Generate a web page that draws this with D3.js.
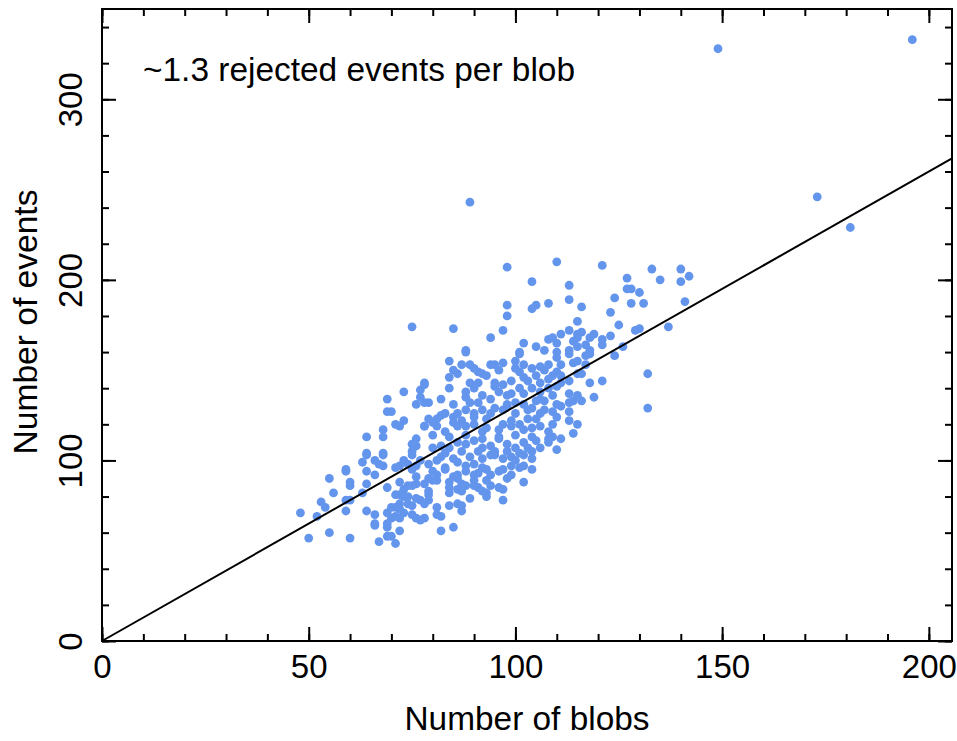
<!DOCTYPE html>
<meta charset="utf-8">
<style>
body { margin: 0; background: #fff; }
svg { font-family: "Liberation Sans", Arial, Helvetica, sans-serif; }
.tick line { stroke: #000; stroke-width: 2; }
.label { font-size: 33px; fill: #000; }
</style>
<svg width="957" height="741"></svg>
<script src="https://cdn.jsdelivr.net/npm/d3@7"></script>
<script>

// number of blobs per run
var blobs = [
  149, 196, 173, 181, 89, 75,
  98, 110, 104, 98, 98, 104, 105, 108, 85, 94, 97, 88, 102, 101, 105, 108, 109, 110, 111, 107, 110,
  121, 133, 140, 142, 140, 127, 135, 113, 113, 127, 128, 130, 124, 128, 131, 141, 116, 123, 115, 125, 137, 129, 130, 113, 115, 116, 114, 115, 118, 119, 121, 123, 121, 117, 115, 126, 113, 118,
  113, 117, 118, 124, 114, 115, 117, 115, 116, 113, 118, 121, 132, 113, 115, 119, 113, 114, 116, 132, 113, 113, 115, 114,
  73, 69, 76, 69, 70, 77, 78, 77, 78, 71, 73, 72, 78, 68, 68, 64, 76, 75, 76, 64, 68, 75,
  64, 68, 66, 67, 68, 63, 64, 66, 59, 59, 55, 60, 60, 64, 56, 53, 54, 59, 60, 63, 59, 64, 66, 66, 66, 52, 48, 50, 55, 60, 69, 69, 69, 67, 69, 70, 71, 72,
  71, 72, 73, 74, 75, 76, 77, 75, 71, 72, 73, 74, 75, 76, 74, 75, 76, 77, 71, 70, 72, 73, 75, 71, 72, 70, 69, 76, 77, 72, 73,
  84, 87, 88, 89, 91, 94, 95, 97, 100, 100, 101, 102, 104, 106, 108, 110, 111, 110,
  84, 86, 89, 91, 92, 93, 95, 97, 99, 102, 103, 105, 106, 108, 109, 111, 78,
  79, 84, 88, 88, 90, 92, 94, 96, 98, 99, 101, 102, 104, 106, 108, 110, 111, 85, 89, 91, 98, 100, 102, 105, 106, 109, 110,
  79, 82, 83, 85, 86, 88, 90, 92, 94, 95, 97, 98, 100, 103, 104, 106, 107, 109, 111,
  78, 80, 81, 83, 85, 86, 88, 90, 92, 93, 96, 97, 99, 101, 102, 104, 106, 108, 109, 80,
  80, 82, 84, 86, 88, 90, 92, 94, 96, 98, 100, 102, 103, 105, 106, 83, 87, 91, 95, 98, 101, 104, 108, 110, 111, 109,
  79, 81, 82, 85, 86, 89, 90, 92, 94, 95, 97, 99, 100, 102, 104, 99, 101, 102,
  80, 81, 83, 85, 86, 88, 90, 91, 93, 94, 96, 99, 104, 102, 81, 84, 87, 90,
  78, 79, 79, 84, 84, 86, 87, 88, 90, 91, 92, 93, 94, 96, 97,
  78, 79, 81, 81, 82, 84, 86, 87, 87, 78, 82, 85,
  // denser core, read between the rows above
  84, 88, 92, 96, 100, 104, 108, 85, 90, 96, 101, 107,
  81, 87, 93, 99, 105, 110, 83, 88, 92, 97, 80, 86, 93, 98,
  82, 90, 95, 103, 107, 76, 79, 74, 72, 89, 93, 97
];

// number of events per run
var events = [
  328, 333, 246, 229, 243, 174,
  207, 210, 199, 186, 180, 184, 186, 187, 173, 168, 172, 161, 165, 160, 163, 167, 168, 165, 170, 161, 160,
  208, 206, 206, 202, 199, 201, 200, 197, 189, 195, 195, 193, 190, 187, 187, 188, 185, 182, 177, 175, 174, 172, 173, 172, 170, 171, 166, 168, 168, 170, 167, 169, 164, 164, 163, 163, 161, 161,
  159, 158, 159, 158, 154, 155, 153, 148, 148, 144, 143, 144, 148, 137, 136, 135, 132, 133, 133, 129, 127, 122, 120, 115,
  138, 134, 131, 127, 127, 139, 142, 135, 132, 120, 122, 119, 119, 117, 113, 113, 112, 109, 108, 104, 104, 105,
  103, 103, 100, 98, 97, 99, 94, 92, 95, 94, 90, 88, 86, 87, 82, 77, 74, 78, 78, 82, 72, 72, 70, 65, 64, 69, 71, 57, 60, 57, 85, 71, 63, 55, 58, 58, 54, 61,
  96, 97, 100, 98, 95, 97, 100, 103, 81, 81, 80, 86, 86, 87, 76, 75, 79, 78, 74, 74, 73, 71, 70, 69, 68, 68, 65, 68, 67, 76, 84,
  155, 153, 160, 153, 149, 153, 153, 154, 151, 155, 159, 153, 151, 152, 153, 157, 153, 149,
  146, 148, 143, 143, 148, 147, 143, 142, 144, 146, 144, 147, 143, 145, 147, 147, 143,
  132, 140, 135, 138, 140, 136, 134, 138, 136, 137, 140, 137, 140, 138, 140, 141, 143, 131, 132, 132, 131, 132, 131, 133, 134, 136, 131,
  123, 125, 126, 124, 126, 128, 126, 128, 126, 129, 128, 130, 126, 128, 129, 126, 128, 127, 130,
  119, 121, 119, 116, 121, 119, 119, 120, 116, 118, 117, 120, 119, 120, 117, 118, 119, 116, 120, 114,
  107, 108, 107, 110, 109, 111, 107, 108, 112, 109, 107, 110, 107, 111, 107, 104, 105, 105, 105, 105, 104, 105, 110, 106, 112, 113,
  98, 100, 102, 101, 99, 102, 98, 101, 103, 103, 101, 102, 100, 103, 101, 97, 96, 97,
  94, 92, 95, 91, 92, 94, 92, 93, 95, 92, 94, 92, 95, 88, 89, 88, 87, 89,
  87, 83, 81, 85, 82, 84, 83, 86, 86, 85, 83, 82, 86, 85, 84,
  76, 78, 74, 70, 69, 75, 76, 75, 72, 68, 61, 63,
  113, 114, 112, 113, 114, 113, 112, 150, 151, 150, 149, 150,
  123, 122, 123, 122, 123, 124, 96, 97, 96, 95, 89, 90, 89, 90,
  134, 124, 141, 123, 133, 91, 90, 80, 88, 79, 80, 78
];

var xTicks = [0, 50, 100, 150, 200],
    yTicks = [0, 100, 200, 300],
    slope = 1.3,
    note = "~1.3 rejected events per blob";

var margin = {top: 9, right: 5, bottom: 100, left: 102},
    width = 850,
    height = 632;

var svg = d3.select("svg");
var g = svg.append("g").attr("transform", "translate(" + margin.left + "," + margin.top + ")");

var x = d3.scaleLinear().domain([0, 205.6]).range([0, width]);
var y = d3.scaleLinear().domain([0, 350]).range([height, 0]);

var minorX = d3.range(0, 206, 10),
    minorY = d3.range(0, 351, 20);

function ticks(axis, vals, size, labels) {
  return axis.tickValues(vals).tickSize(size).tickPadding(8)
    .tickFormat(labels ? d3.format("d") : "");
}

// ticks on all four sides, pointing in
g.append("g").attr("transform", "translate(0," + height + ")").call(ticks(d3.axisBottom(x), minorX, -7, false));
g.append("g").attr("transform", "translate(0," + height + ")").attr("class", "xl").call(ticks(d3.axisBottom(x), xTicks, -14, true));
g.append("g").call(ticks(d3.axisTop(x), minorX, -7, false));
g.append("g").call(ticks(d3.axisTop(x), xTicks, -14, false));
g.append("g").call(ticks(d3.axisLeft(y), minorY, -7, false));
g.append("g").attr("class", "yl").call(ticks(d3.axisLeft(y), yTicks, -14, true));
g.append("g").attr("transform", "translate(" + width + ",0)").call(ticks(d3.axisRight(y), minorY, -7, false));
g.append("g").attr("transform", "translate(" + width + ",0)").call(ticks(d3.axisRight(y), yTicks, -14, false));

g.selectAll(".domain").remove();
g.selectAll(".tick text").attr("class", "label").attr("font-size", null).attr("font-family", null);

// tick labels
g.selectAll(".xl .tick text").attr("dy", null).attr("y", 37);
g.selectAll(".yl .tick text")
    .attr("x", null).attr("dy", null)
    .attr("text-anchor", "middle")
    .attr("transform", "translate(-20,0) rotate(-90)");

var points = blobs.map(function(b, i) { return {b: b, e: events[i]}; });

g.selectAll("circle")
    .data(points)
  .enter().append("circle")
    .attr("cx", function(d) { return x(d.b); })
    .attr("cy", function(d) { return y(d.e); })
    .attr("r", 4.4)
    .attr("fill", "#6495ed");

// fit line
g.append("line")
    .attr("x1", x(0)).attr("y1", y(0))
    .attr("x2", x(205.6)).attr("y2", y(205.6 * slope))
    .attr("stroke", "#000").attr("stroke-width", 2);

g.append("rect")
    .attr("width", width).attr("height", height)
    .attr("fill", "none").attr("stroke", "#000").attr("stroke-width", 2);

g.append("text").attr("class", "label")
    .attr("x", 41).attr("y", 72)
    .attr("textLength", 432).attr("lengthAdjust", "spacingAndGlyphs")
    .text(note);

svg.append("text").attr("class", "label")
    .attr("x", 527).attr("y", 730)
    .attr("text-anchor", "middle")
    .attr("textLength", 245).attr("lengthAdjust", "spacingAndGlyphs")
    .text("Number of blobs");

svg.append("text").attr("class", "label")
    .attr("transform", "translate(37,322) rotate(-90)")
    .attr("text-anchor", "middle")
    .attr("textLength", 265).attr("lengthAdjust", "spacingAndGlyphs")
    .text("Number of events");

</script>
